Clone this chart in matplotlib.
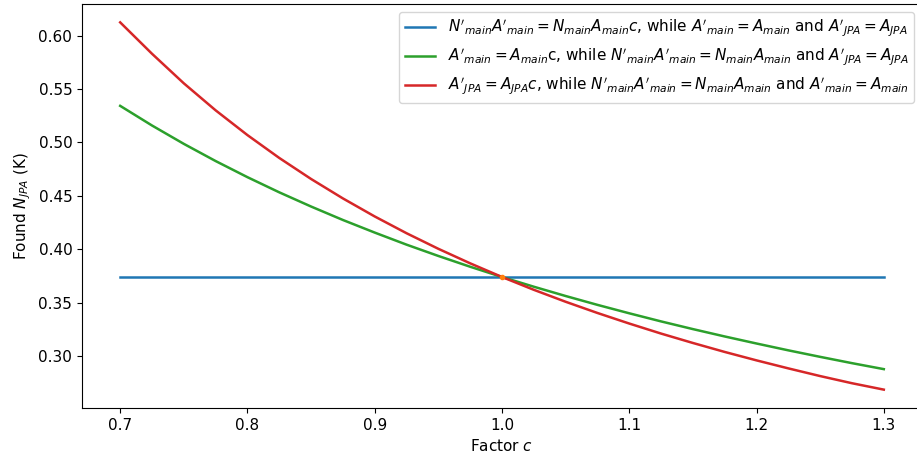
import matplotlib
matplotlib.use("Agg")
import matplotlib.pyplot as plt

# Scaling factor c applied to each quantity
factor_c = [0.700, 0.725, 0.750, 0.775, 0.800, 0.825, 0.850, 0.875, 0.900,
            0.925, 0.950, 0.975, 1.000, 1.025, 1.050, 1.075, 1.100, 1.125,
            1.150, 1.175, 1.200, 1.225, 1.250, 1.275, 1.300]

# Found N_JPA (K) when the product N_main*A_main is scaled
n_jpa_scaled_product = [0.374] * len(factor_c)

# Found N_JPA (K) when A_main is scaled
n_jpa_scaled_a_main = [0.5343, 0.5159, 0.4987, 0.4826, 0.4675, 0.4533, 0.4400,
                       0.4274, 0.4156, 0.4043, 0.3937, 0.3836, 0.3740, 0.3649,
                       0.3562, 0.3479, 0.3400, 0.3324, 0.3252, 0.3183, 0.3117,
                       0.3053, 0.2992, 0.2933, 0.2877]

# Found N_JPA (K) when A_JPA is scaled
n_jpa_scaled_a_jpa = [0.6125, 0.5831, 0.5554, 0.5301, 0.5069, 0.4855, 0.4658,
                      0.4476, 0.4307, 0.4150, 0.4004, 0.3868, 0.3740, 0.3620,
                      0.3508, 0.3403, 0.3304, 0.3210, 0.3122, 0.3038, 0.2959,
                      0.2884, 0.2812, 0.2745, 0.2685]

# Nominal point (c = 1)
nominal_c = [1.0]
nominal_n_jpa = [0.374]

labels = [
    r"$N'_{main}A'_{main} = N_{main}A_{main}c$, while $A'_{main} = A_{main}$ and $A'_{JPA} = A_{JPA}$",
    r"$A'_{main} = A_{main}$c, while $N'_{main}A'_{main} = N_{main}A_{main}$ and $A'_{JPA} = A_{JPA}$",
    r"$A'_{JPA} = A_{JPA}c$, while $N'_{main}A'_{main} = N_{main}A_{main}$ and $A'_{main} = A_{main}$",
]

plt.rcParams["font.size"] = 11

fig = plt.figure(figsize=(9.17, 4.57), dpi=100)
ax = fig.add_axes([82 / 917, 49 / 457, 840 / 917, 404 / 457])

ax.plot(factor_c, n_jpa_scaled_product, color="C0", lw=1.8, label=labels[0])
ax.plot(factor_c, n_jpa_scaled_a_main, color="C2", lw=1.8, label=labels[1])
ax.plot(factor_c, n_jpa_scaled_a_jpa, color="C3", lw=1.8, label=labels[2])
ax.plot(nominal_c, nominal_n_jpa, "o", color="C1", markersize=3, zorder=5)

ax.set_xticks([0.7, 0.8, 0.9, 1.0, 1.1, 1.2, 1.3])
ax.set_yticks([0.30, 0.35, 0.40, 0.45, 0.50, 0.55, 0.60])
ax.set_xlabel("Factor $c$")
ax.set_ylabel("Found $N_{JPA}$ (K)")

ax.legend(loc="upper right")

fig.savefig("out.png", dpi=100)
